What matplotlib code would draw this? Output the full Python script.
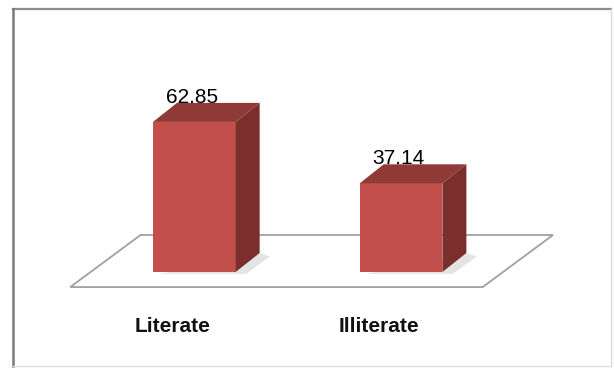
import matplotlib.pyplot as plt
from matplotlib.patches import Polygon, Rectangle
from matplotlib.lines import Line2D

categories = ["Literate", "Illiterate"]
values = [62.85, 37.14]
value_labels = ["62.85", "37.14"]

FRONT = "#c24f4c"
TOP = "#903a37"
SIDE = "#7a2f2d"

fig = plt.figure(figsize=(6.14, 3.68), dpi=100)
ax = fig.add_axes([0, 0, 1, 1])
ax.set_xlim(-0.94, 2.03)
ax.set_ylim(-40.2, 113.9)
ax.axis("off")

# chart border (dark on left/top, light on right/bottom)
def fline(x, y, c, lw):
    fig.add_artist(Line2D([v / 614 for v in x], [1 - v / 368 for v in y],
                          color=c, lw=lw, transform=fig.transFigure))

fline([13, 611], [9, 9], "#8c8c8c", 1.6)
fline([13, 13], [9, 366], "#7a7a7a", 1.8)
fline([611, 611], [9, 366], "#dcdcdc", 1.0)
fline([13, 611], [366, 366], "#e0e0e0", 1.0)

# bar geometry
w = 0.2
ddx, ddy = 0.116, 7.96

# floor
fx0, fx1 = -0.6, 1.395
fy = -6.3
fdx, fdy = 0.34, 21.8
floor = Polygon([(fx0, fy), (fx1, fy), (fx1 + fdx, fy + fdy), (fx0 + fdx, fy + fdy)],
                closed=True, facecolor="white", edgecolor="#a0a0a0", lw=1.3, zorder=1)
ax.add_patch(floor)

for i, v in enumerate(values):
    # soft shadow on the floor
    sh = Polygon([(i - w + 0.03, -0.8), (i + w + 0.05, -0.8),
                  (i + w + ddx + 0.05, ddy - 1.5), (i + w + ddx, ddy)],
                 closed=True, facecolor="#c8cccc", edgecolor="none", alpha=0.5, zorder=2)
    ax.add_patch(sh)
    ax.add_patch(Rectangle((i - w, 0), 2 * w, v, facecolor=FRONT, edgecolor="none", zorder=3))
    ax.add_patch(Polygon([(i - w, v), (i + w, v), (i + w + ddx, v + ddy), (i - w + ddx, v + ddy)],
                         closed=True, facecolor=TOP, edgecolor="none", zorder=3))
    ax.add_patch(Polygon([(i + w, 0), (i + w + ddx, ddy), (i + w + ddx, v + ddy), (i + w, v)],
                         closed=True, facecolor=SIDE, edgecolor="none", zorder=3))
    ax.text(i - 0.012, v + ddy, value_labels[i], ha="center", va="baseline",
            fontsize=15, family="Liberation Sans", color="black", zorder=5)
    ax.text(i - 0.105, -23, categories[i], ha="center", va="center",
            fontsize=15, family="Liberation Sans", fontweight="bold", color="#111111", zorder=5)

fig.savefig("out.png", dpi=100)
